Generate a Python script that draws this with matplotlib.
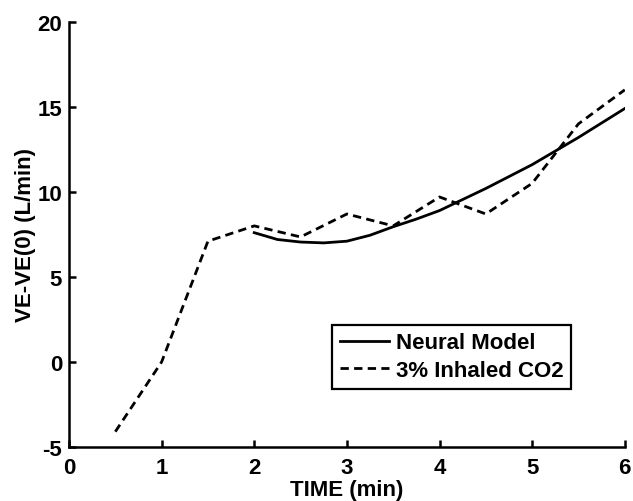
import matplotlib
matplotlib.use("Agg")
import matplotlib.pyplot as plt

plt.rcParams['font.family'] = ['Liberation Sans', 'DejaVu Sans']
plt.rcParams['font.weight'] = 'bold'
plt.rcParams['axes.unicode_minus'] = False

# Data
co2_time = [0.5, 1.0, 1.5, 2.0, 2.5, 3.0, 3.5, 4.0, 4.5, 5.0, 5.5, 6.0]
co2_ve = [-4.1, 0.0, 7.1, 8.0, 7.35, 8.7, 8.0, 9.7, 8.7, 10.5, 14.0, 16.0]

model_time = [2.0, 2.25, 2.5, 2.75, 3.0, 3.25, 3.5, 3.75, 4.0, 4.25, 4.5, 4.75, 5.0, 5.25, 5.5, 5.75, 6.0]
model_ve = [7.6, 7.2, 7.05, 7.0, 7.1, 7.45, 7.95, 8.4, 8.9, 9.55, 10.2, 10.9, 11.6, 12.4, 13.2, 14.05, 14.9]

xticks = [0, 1, 2, 3, 4, 5, 6]
yticks = [-5, 0, 5, 10, 15, 20]

fig = plt.figure(figsize=(6.33, 5.02), dpi=100)
ax = fig.add_axes([0.109, 0.1076, 0.878, 0.847])

ax.plot(model_time, model_ve, color='black', lw=2.0, label='Neural Model')
ax.plot(co2_time, co2_ve, color='black', lw=2.0, dashes=(3.0, 1.9), label='3% Inhaled CO2')

ax.set_xlim(0, 6)
ax.set_ylim(-5, 20)
ax.set_xticks(xticks)
ax.set_yticks(yticks)
ax.spines['top'].set_visible(False)
ax.spines['right'].set_visible(False)
for s in ('left', 'bottom'):
    ax.spines[s].set_linewidth(1.8)
ax.tick_params(direction='in', length=5, width=1.8, labelsize=16, pad=5)
ax.tick_params(axis='x', pad=7)

ax.set_xlabel('TIME (min)', fontsize=16, fontweight='bold', labelpad=1)
ax.set_ylabel('VE-VE(0) (L/min)', fontsize=16, fontweight='bold', labelpad=1)

leg = ax.legend(loc='lower left', bbox_to_anchor=(0.474, 0.137), fontsize=16,
                frameon=True, fancybox=False, edgecolor='black', framealpha=1,
                handlelength=2.2, handletextpad=0.3, borderpad=0.35,
                labelspacing=0.3, borderaxespad=0)
leg.get_frame().set_linewidth(1.6)

fig.savefig('out.png', dpi=100)
